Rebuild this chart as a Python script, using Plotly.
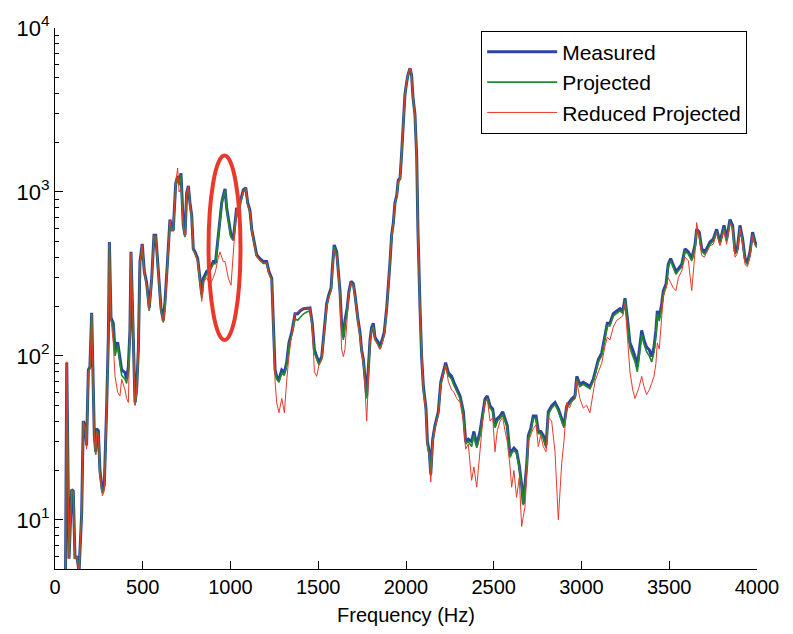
import plotly.graph_objects as go

freq_hz = [60, 67, 80, 95, 104, 114, 125, 137, 152, 161, 171, 180, 190, 199, 209, 218, 224, 232, 237, 247,
           256, 270, 281, 294, 304, 310, 319, 332, 342, 357, 370, 380, 399, 408, 418, 427, 433, 443, 456, 465,
           475, 484, 497, 509, 522, 537, 551, 564, 574, 589, 604, 617, 627, 642, 655, 665, 674, 688, 699, 707,
           718, 731, 741, 750, 760, 769, 779, 788, 798, 813, 826, 836, 845, 864, 883, 902, 915, 931, 940, 950,
           959, 969, 978, 988, 1003, 1016, 1026, 1035, 1045, 1054, 1073, 1087, 1098, 1111, 1121, 1136, 1149, 1168, 1187, 1206,
           1219, 1235, 1244, 1254, 1263, 1276, 1292, 1307, 1320, 1333, 1349, 1368, 1383, 1396, 1415, 1434, 1453, 1466, 1478, 1491,
           1504, 1520, 1535, 1548, 1561, 1573, 1580, 1591, 1605, 1614, 1624, 1633, 1643, 1652, 1665, 1675, 1687, 1700, 1709, 1725,
           1738, 1747, 1757, 1766, 1776, 1785, 1795, 1804, 1814, 1823, 1842, 1852, 1865, 1876, 1890, 1899, 1909, 1918, 1928, 1937,
           1947, 1956, 1966, 1975, 1983, 1994, 2004, 2011, 2023, 2032, 2040, 2051, 2061, 2068, 2080, 2089, 2099, 2114, 2122, 2133,
           2141, 2152, 2165, 2184, 2198, 2213, 2226, 2241, 2260, 2273, 2289, 2308, 2327, 2340, 2355, 2374, 2387, 2403, 2422, 2437,
           2450, 2463, 2479, 2494, 2507, 2520, 2536, 2551, 2564, 2577, 2593, 2602, 2615, 2630, 2645, 2659, 2668, 2678, 2688, 2697,
           2711, 2725, 2741, 2754, 2768, 2782, 2798, 2811, 2830, 2849, 2868, 2887, 2900, 2916, 2931, 2944, 2963, 2973, 2991, 3010,
           3029, 3048, 3067, 3077, 3096, 3115, 3134, 3147, 3162, 3181, 3201, 3219, 3235, 3248, 3261, 3276, 3292, 3305, 3318, 3329,
           3343, 3356, 3371, 3386, 3400, 3413, 3424, 3432, 3443, 3457, 3466, 3482, 3494, 3508, 3523, 3538, 3552, 3571, 3590, 3609,
           3628, 3647, 3656, 3671, 3685, 3700, 3713, 3732, 3751, 3770, 3789, 3812, 3827, 3846, 3861, 3875, 3888, 3903, 3918, 3932,
           3945, 3960, 3975, 3989, 3998]

measured = [4.5, 91, 5.8, 15.3, 15, 5.8, 6, 4.8, 11, 40, 37.6, 28.5, 82, 86, 183, 75, 33, 26, 36, 35,
            20, 15, 16.4, 47.5, 130, 495, 171, 158, 109, 121, 95, 82, 79, 72, 86, 143, 431, 188, 52, 62,
            109, 376, 482, 327, 280, 196, 297, 545, 545, 327, 196, 164, 215, 392, 679, 592, 592, 1130, 1250, 1130,
            1300, 625, 545, 986, 1090, 859, 718, 450, 431, 392, 297, 238, 297, 327, 340, 376, 376, 568, 679, 859,
            950, 1045, 802, 679, 545, 516, 679, 802, 718, 859, 1030, 1060, 859, 769, 592, 475, 414, 392, 376, 376,
            327, 297, 171, 82, 75, 72, 82, 79, 91, 120, 139, 181, 181, 188, 194, 196, 196, 158, 109, 99,
            91, 99, 143, 208, 238, 259, 340, 475, 431, 340, 248, 158, 130, 164, 196, 248, 285, 275, 238, 171,
            139, 109, 95, 75, 57, 82, 125, 149, 158, 130, 121, 113, 125, 139, 196, 259, 376, 545, 650, 859,
            950, 1180, 1210, 1710, 2480, 3920, 4690, 5160, 5680, 5160, 3760, 2970, 1640, 592, 196, 99, 65, 47.5, 30, 26,
            19, 31, 37.6, 45.6, 69, 82, 91, 79, 75, 69, 62.5, 57, 45.6, 30, 31, 30, 34.6, 28.5, 34.6, 43,
            54.5, 57, 49.5, 47.5, 37.6, 41.4, 43, 45.6, 41.4, 37.6, 24.8, 26.3, 27.4, 26.3, 21.6, 16.4, 12.5, 16.4, 21.6, 32.7,
            36, 43, 43, 34.6, 34.6, 32.7, 28.5, 45.6, 49.5, 52, 47.5, 41.4, 37.6, 49.5, 52, 54.5, 57, 75, 67, 69,
            67, 65, 72, 79, 95, 104, 130, 158, 158, 181, 188, 194, 188, 225, 171, 120, 109, 99, 86, 109,
            143, 125, 113, 109, 99, 113, 143, 188, 171, 208, 248, 275, 361, 392, 361, 327, 340, 361, 450, 431,
            392, 475, 592, 568, 450, 431, 450, 495, 516, 592, 495, 625, 516, 679, 625, 431, 450, 625, 516, 392,
            370, 431, 568, 495, 475]

projected = [4.5, 90, 5.8, 15, 14.8, 5.8, 6, 4.8, 11, 39, 37, 28, 80, 84, 180, 73, 32, 25, 35, 33,
             19, 14.5, 16, 46, 125, 480, 165, 150, 100, 115, 88, 76, 72, 68, 80, 138, 420, 180, 50, 60,
             105, 365, 470, 320, 270, 188, 290, 530, 530, 320, 190, 160, 210, 380, 660, 580, 580, 1100, 1220, 1100,
             1270, 610, 530, 960, 1060, 840, 700, 440, 420, 380, 285, 225, 285, 315, 330, 365, 365, 550, 660, 840,
             930, 1020, 780, 660, 530, 505, 660, 780, 700, 840, 1000, 1040, 840, 750, 580, 465, 405, 382, 366, 366,
             318, 290, 165, 79, 72, 69, 79, 76, 88, 116, 134, 168, 165, 172, 180, 185, 188, 152, 105, 96,
             88, 96, 138, 200, 230, 250, 330, 460, 420, 330, 240, 152, 125, 158, 190, 240, 278, 268, 232, 166,
             134, 105, 92, 72, 55, 80, 120, 143, 152, 126, 117, 110, 121, 134, 190, 250, 365, 530, 630, 840,
             930, 1150, 1190, 1680, 2440, 3870, 4640, 5120, 5640, 5120, 3720, 2930, 1600, 580, 190, 96, 63, 46, 29, 25,
             18.5, 30, 36.5, 44, 67, 79, 87, 76, 72, 66, 60, 55, 44, 29, 30, 28, 33, 27.5, 33, 41.5,
             52.5, 55, 48, 46, 36.5, 40, 41.5, 44, 40, 36.5, 24, 25.5, 26.5, 25.5, 21, 16, 12.3, 16, 21, 31.5,
             35, 41.5, 41.5, 33.5, 33.5, 31.5, 27.5, 44, 48, 50.5, 46, 40, 36.5, 48, 50.5, 53, 55, 72, 65, 67,
             65, 63, 70, 76, 92, 100, 125, 152, 152, 175, 182, 188, 182, 218, 165, 112, 100, 92, 80, 100,
             135, 118, 106, 100, 92, 105, 135, 180, 163, 200, 240, 265, 350, 380, 350, 315, 330, 350, 435, 418,
             380, 460, 575, 550, 435, 418, 435, 480, 500, 575, 480, 605, 500, 660, 605, 418, 435, 605, 500, 380,
             360, 418, 550, 480, 462]

reduced = [4.5, 92, 5.8, 15.3, 15, 5.8, 6, 4.8, 11, 40, 36, 27, 80, 84, 180, 74, 32, 25, 34, 33,
           19, 14, 15, 46, 128, 490, 168, 120, 75, 60, 57, 72, 62, 55, 52, 140, 425, 185, 50, 60,
           105, 370, 475, 320, 275, 190, 290, 540, 540, 320, 190, 160, 190, 385, 670, 585, 585, 1140, 1400, 1000,
           1050, 615, 540, 990, 1080, 850, 700, 440, 420, 380, 290, 215, 280, 300, 272, 300, 330, 400, 431, 400,
           376, 376, 340, 297, 270, 450, 600, 790, 710, 850, 1020, 1050, 850, 760, 585, 470, 405, 385, 370, 370,
           320, 290, 150, 70, 52, 45, 55, 45, 70, 100, 135, 180, 185, 190, 195, 196, 196, 150, 80, 75,
           88, 95, 138, 200, 230, 250, 335, 440, 400, 330, 230, 110, 99, 109, 170, 245, 280, 270, 232, 165,
           135, 105, 90, 65, 40, 68, 120, 145, 150, 125, 116, 110, 120, 135, 190, 255, 370, 540, 640, 850,
           940, 1170, 1200, 1700, 2460, 3900, 4670, 5150, 5700, 5150, 3740, 2950, 1620, 585, 190, 96, 60, 45, 27, 25,
           17, 30, 36, 44, 66, 79, 88, 70, 62, 60, 55, 52, 40, 27, 29, 17.4, 21, 15.8, 28.5, 40,
           52, 55, 40, 42, 26, 35, 40, 42, 35, 30, 21, 15.8, 20, 13.7, 18, 9.1, 10.4, 12, 18.8, 30,
           33, 36, 38, 28, 33, 28, 26, 42, 40, 26, 10, 22, 30, 52, 48, 52, 55, 70, 55, 48,
           50, 45, 60, 70, 80, 90, 115, 130, 125, 150, 165, 170, 175, 210, 140, 80, 62, 55, 60, 65,
           75, 65, 58, 62, 68, 75, 90, 120, 110, 180, 230, 260, 300, 280, 260, 250, 300, 330, 400, 380,
           250, 430, 650, 520, 410, 400, 430, 470, 480, 560, 470, 580, 480, 640, 600, 400, 420, 600, 480, 360,
           350, 400, 540, 470, 455]

x_ticks = [0, 500, 1000, 1500, 2000, 2500, 3000, 3500, 4000]
y_ticks = [10, 100, 1000, 10000]
y_tick_text = ["10<sup>1</sup>", "10<sup>2</sup>", "10<sup>3</sup>", "10<sup>4</sup>"]
y_minor = [m * d for d in (1, 10, 100, 1000) for m in range(2, 10) if m * d >= 5]

# highlight ellipse (data units)
ellipse_x = [875, 1057]
ellipse_y = [125, 1666]

FONT = "Liberation Sans, Arial, sans-serif"

fig = go.Figure()
fig.add_trace(go.Scatter(x=freq_hz, y=measured, mode="lines", name="Measured",
                         line=dict(color="#2d44a1", width=3)))
fig.add_trace(go.Scatter(x=freq_hz, y=projected, mode="lines", name="Projected",
                         line=dict(color="#1f8a2c", width=1.6)))
fig.add_trace(go.Scatter(x=freq_hz, y=reduced, mode="lines", name="Reduced Projected",
                         line=dict(color="#e8392b", width=1)))

fig.add_shape(type="circle", xref="x", yref="y",
              x0=ellipse_x[0], x1=ellipse_x[1], y0=ellipse_y[0], y1=ellipse_y[1],
              line=dict(color="#e8392b", width=4))

fig.update_layout(
    width=793, height=634,
    margin=dict(l=55, r=36, t=22, b=61),
    paper_bgcolor="white", plot_bgcolor="white",
    font=dict(family=FONT, size=20, color="black"),
    showlegend=True,
    legend=dict(x=0.986, y=0.995, xanchor="right", yanchor="top",
                bgcolor="white", bordercolor="black", borderwidth=1,
                font=dict(family=FONT, size=21, color="black"),
                itemwidth=70, tracegroupgap=0),
)
fig.update_xaxes(range=[0, 4000], tickvals=x_ticks, ticks="inside", ticklen=8,
                 tickcolor="black", showline=True, linecolor="black", linewidth=1,
                 showgrid=False, zeroline=False, mirror=False,
                 title=dict(text="Frequency (Hz)", font=dict(size=20), standoff=10),
                 tickfont=dict(size=20))
fig.update_yaxes(type="log", range=[0.7, 4], tickvals=y_ticks, ticktext=y_tick_text,
                 ticks="inside", ticklen=8, tickcolor="black",
                 minor=dict(tickvals=y_minor, ticks="inside", ticklen=4, tickcolor="black", showgrid=False),
                 showline=True, linecolor="black", linewidth=1,
                 showgrid=False, zeroline=False, mirror=False,
                 tickfont=dict(size=22))

fig.write_html("out.html")
